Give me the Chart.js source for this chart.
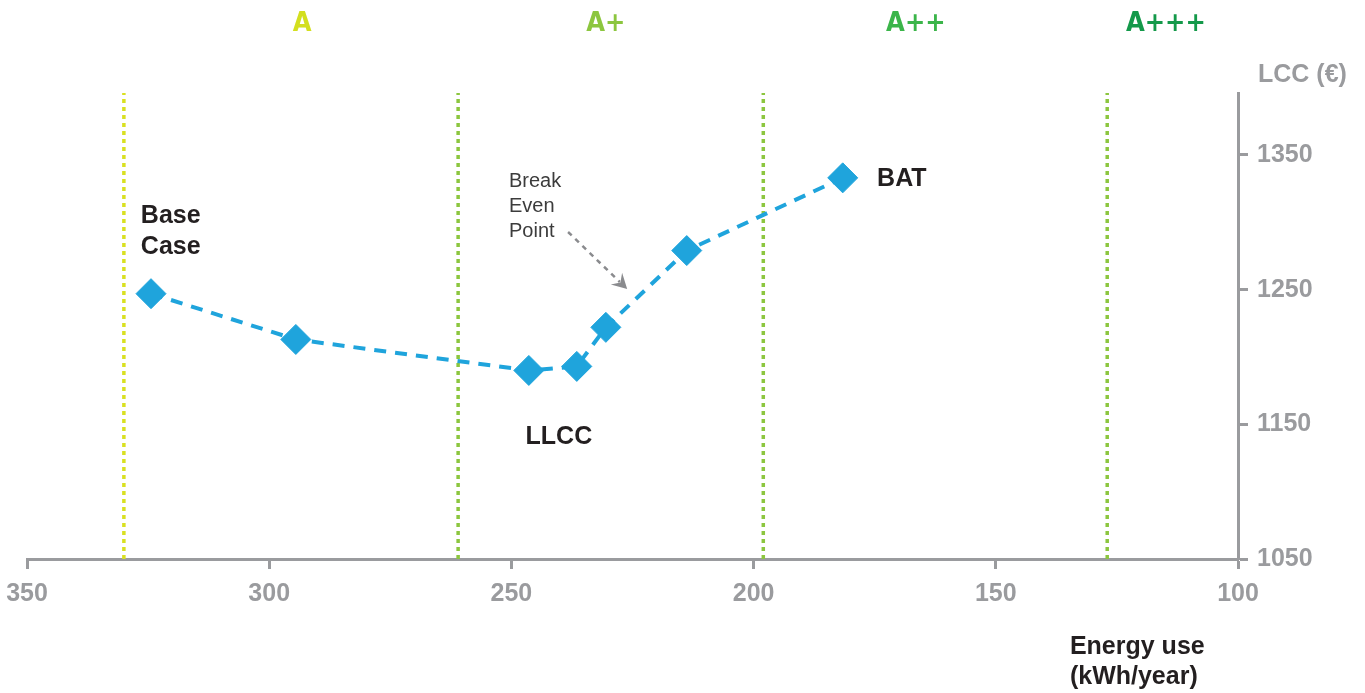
<!DOCTYPE html>
<html>
<head>
<meta charset="utf-8">
<script src="https://cdn.jsdelivr.net/npm/chart.js@4.4.1/dist/chart.umd.min.js"></script>
<style>
  html, body { margin: 0; padding: 0; background: #ffffff; }
  #wrap { width: 1365px; height: 693px; position: relative; }
</style>
</head>
<body>
<div id="wrap"><canvas id="lcc"></canvas></div>
<script>
// Design options: annual energy use (kWh/year) and life cycle cost (€)
const energyUse = [324.4, 294.5, 246.4, 236.5, 230.5, 213.8, 181.6];
const lccValues = [1247, 1213, 1190, 1193, 1222, 1279, 1333];

// Energy label class limits (kWh/year) and class names
const classLimits = [330, 261, 198, 127];
const classNames = ['A', 'A+', 'A++', 'A+++'];
const classNameAt = [293.2, 230.5, 166.5, 114.9];
const classColors = ['#d3df1f', '#8cc63f', '#3bb54a', '#14994a'];
const limitColors = ['#d9e021', '#8cc63f', '#8cc63f', '#8cc63f'];

// Axis ticks
const xTicks = [350, 300, 250, 200, 150, 100];
const yTicks = [1050, 1150, 1250, 1350];
const yMin = 1050, yMax = 1396;

const AXIS_GREY = '#9a9b9e';
const INK = '#231f20';
const SANS = '"Liberation Sans", Arial, Helvetica, sans-serif';
const BOLD = 'bold 25px ' + SANS;

// Text annotations placed in data units
const notes = [
  { lines: ['Base', 'Case'], x: 326.5, y: 1304.6, lh: 31, align: 'left', font: BOLD, color: INK },
  { lines: ['BAT'], x: 174.5, y: 1332.1, lh: 31, align: 'left', font: BOLD, color: INK },
  { lines: ['LLCC'], x: 240.2, y: 1140.6, lh: 31, align: 'center', font: BOLD, color: INK },
  { lines: ['Break', 'Even', 'Point'], x: 250.5, y: 1330.6, lh: 25, align: 'left',
    font: '20px ' + SANS, color: '#3c3c3c' }
];
const breakEvenArrow = { from: [238.3, 1292.8], to: [226.1, 1250.4] };

const pts = energyUse.map((x, i) => ({ x, y: lccValues[i] }));

const limitSets = classLimits.map((v, i) => ({
  type: 'line',
  data: [{ x: v, y: yMin }, { x: v, y: yMax }],
  borderColor: limitColors[i],
  borderWidth: 3.5,
  borderDash: [4, 4],
  pointRadius: 0,
  fill: false,
  order: 2
}));

const annotate = {
  id: 'annotate',
  afterDatasetsDraw(chart) {
    const { ctx, chartArea } = chart;
    const xs = chart.scales.x, ys = chart.scales.y;
    ctx.save();
    // Energy class names above the plot
    ctx.font = 'bold 27px "DejaVu Sans", sans-serif';
    if ('fontStretch' in ctx) ctx.fontStretch = 'condensed';
    ctx.textAlign = 'center';
    ctx.textBaseline = 'middle';
    classNames.forEach((n, i) => {
      ctx.fillStyle = classColors[i];
      ctx.fillText(n, xs.getPixelForValue(classNameAt[i]), chartArea.top - 69);
    });
    if ('fontStretch' in ctx) ctx.fontStretch = 'normal';
    // Point notes
    notes.forEach(n => {
      ctx.font = n.font;
      ctx.fillStyle = n.color;
      ctx.textAlign = n.align;
      ctx.textBaseline = 'middle';
      const px = xs.getPixelForValue(n.x), py = ys.getPixelForValue(n.y);
      n.lines.forEach((t, k) => ctx.fillText(t, px, py + k * n.lh));
    });
    // Break even arrow
    const x0 = xs.getPixelForValue(breakEvenArrow.from[0]);
    const y0 = ys.getPixelForValue(breakEvenArrow.from[1]);
    const x1 = xs.getPixelForValue(breakEvenArrow.to[0]);
    const y1 = ys.getPixelForValue(breakEvenArrow.to[1]);
    const ang = Math.atan2(y1 - y0, x1 - x0);
    const head = 17;
    ctx.strokeStyle = '#8a8b8e';
    ctx.fillStyle = '#8a8b8e';
    ctx.lineWidth = 2.5;
    ctx.setLineDash([5, 5]);
    ctx.beginPath();
    ctx.moveTo(x0, y0);
    ctx.lineTo(x1 - Math.cos(ang) * head * 0.6, y1 - Math.sin(ang) * head * 0.6);
    ctx.stroke();
    ctx.setLineDash([]);
    ctx.beginPath();
    ctx.moveTo(x1, y1);
    ctx.lineTo(x1 - Math.cos(ang - 0.5) * head, y1 - Math.sin(ang - 0.5) * head);
    ctx.lineTo(x1 - Math.cos(ang) * head * 0.55, y1 - Math.sin(ang) * head * 0.55);
    ctx.lineTo(x1 - Math.cos(ang + 0.5) * head, y1 - Math.sin(ang + 0.5) * head);
    ctx.closePath();
    ctx.fill();
    // Axis titles
    ctx.font = BOLD;
    ctx.textAlign = 'left';
    ctx.fillStyle = AXIS_GREY;
    ctx.fillText('LCC (€)', chartArea.right + 20, chartArea.top - 18);
    ctx.fillStyle = INK;
    ctx.fillText('Energy use', xs.getPixelForValue(134.7), chartArea.bottom + 88);
    ctx.fillText('(kWh/year)', xs.getPixelForValue(134.7), chartArea.bottom + 118);
    ctx.restore();
  }
};

new Chart(document.getElementById('lcc'), {
  type: 'scatter',
  data: {
    datasets: [
      {
        type: 'line',
        data: pts,
        borderColor: '#1fa4dc',
        borderWidth: 4,
        borderDash: [12, 9],
        pointStyle: 'rectRot',
        pointRadius: 15,
        pointHoverRadius: 15,
        pointBackgroundColor: '#1fa4dc',
        pointBorderColor: '#1fa4dc',
        pointBorderWidth: 1,
        fill: false,
        tension: 0,
        order: 0
      },
      ...limitSets
    ]
  },
  options: {
    responsive: true,
    maintainAspectRatio: false,
    animation: false,
    events: [],
    layout: { padding: { left: 27, top: 93, right: 0, bottom: 0 } },
    plugins: { legend: { display: false }, tooltip: { enabled: false } },
    scales: {
      x: {
        type: 'linear',
        position: 'bottom',
        reverse: true,
        min: 100,
        max: 350,
        afterBuildTicks: s => { s.ticks = xTicks.map(v => ({ value: v })); },
        afterFit: s => { s.height = 134; s.paddingLeft = 0; s.paddingRight = 0; },
        grid: { drawOnChartArea: false, drawTicks: true, tickLength: 10, tickWidth: 3, color: AXIS_GREY },
        border: { display: true, width: 3, color: AXIS_GREY },
        ticks: {
          color: AXIS_GREY,
          padding: 10,
          callback: v => String(v),
          font: { family: SANS, size: 25, weight: 'bold' }
        }
      },
      y: {
        type: 'linear',
        position: 'right',
        min: yMin,
        max: yMax,
        afterBuildTicks: s => { s.ticks = yTicks.map(v => ({ value: v })); },
        afterFit: s => { s.width = 127; s.paddingTop = 0; s.paddingBottom = 0; },
        grid: { drawOnChartArea: false, drawTicks: true, tickLength: 10, tickWidth: 3, color: AXIS_GREY },
        border: { display: true, width: 3, color: AXIS_GREY },
        ticks: {
          color: AXIS_GREY,
          padding: 9,
          callback: v => String(v),
          font: { family: SANS, size: 25, weight: 'bold' }
        }
      }
    }
  },
  plugins: [annotate]
});
</script>
</body>
</html>
